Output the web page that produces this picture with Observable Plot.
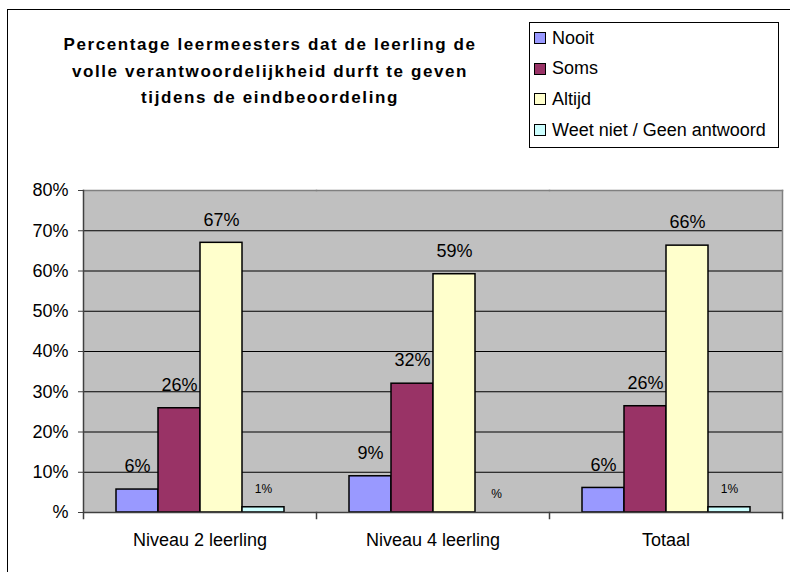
<!DOCTYPE html>
<html>
<head>
<meta charset="utf-8">
<script src="https://cdn.jsdelivr.net/npm/d3@7"></script>
<script src="https://cdn.jsdelivr.net/npm/@observablehq/plot@0.6"></script>
<style>
  html, body { margin: 0; padding: 0; background: #fff; overflow: hidden; }
  #wrap { position: relative; width: 795px; height: 572px; font-family: "Liberation Sans", Arial, sans-serif; color: #000; }
  #border { position: absolute; left: 7px; top: 9px; width: 783px; height: 600px; border-top: 1px solid #000; border-left: 1px solid #000; box-sizing: border-box; pointer-events: none; }
  #title { position: absolute; left: 20px; top: 32px; width: 500px; text-align: center; font-weight: bold; font-size: 17px; letter-spacing: 1.6px; line-height: 26.5px; }
  #legend { position: absolute; left: 529px; top: 22px; width: 250px; height: 126px; border: 1px solid #000; box-sizing: border-box; background: #fff; }
  .item { position: relative; height: 30.6px; display: flex; align-items: center; font-size: 18px; white-space: nowrap; }
  .sw { width: 10px; height: 10px; border: 1px solid #000; margin-left: 4px; margin-right: 6px; flex: none; }
</style>
</head>
<body>
<div id="wrap">
  <div id="chart"></div>
  <div id="border"></div>
  <div id="title"></div>
  <div id="legend"></div>
</div>
<script>
// ---- data ----
const groups = ["Niveau 2 leerling", "Niveau 4 leerling", "Totaal"];
const series = ["Nooit", "Soms", "Altijd", "Weet niet / Geen antwoord"];
const nooit = [0.057, 0.090, 0.061];
const soms = [0.259, 0.320, 0.264];
const altijd = [0.670, 0.592, 0.663];
const weetNiet = [0.013, 0.0, 0.013];
const colors = ["#9999FF", "#993366", "#FFFFCC", "#CCFFFF"];
const yTicks = [0, 0.1, 0.2, 0.3, 0.4, 0.5, 0.6, 0.7, 0.8];
const titleLines = [
  "Percentage leermeesters dat de leerling de",
  "volle verantwoordelijkheid durft te geven",
  "tijdens de eindbeoordeling"
];

const valuesBySeries = [nooit, soms, altijd, weetNiet];
const rows = [];
groups.forEach((g, gi) => series.forEach((s, si) => rows.push({group: g, series: s, value: valuesBySeries[si][gi]})));

const fmt = v => { const r = Math.round(v * 100); return r === 0 ? "%" : r + "%"; };

// ---- layout ----
const W = 795, H = 572, mL = 83, mR = 13, mT = 190, mB = 60;
const innerH = H - mT - mB;
const smallSeries = series[3];

const chart = Plot.plot({
  width: W, height: H,
  marginLeft: mL, marginRight: mR, marginTop: mT, marginBottom: mB,
  style: {fontFamily: "'Liberation Sans', Arial, sans-serif", background: "transparent", color: "#000"},
  fx: {domain: groups, padding: 0, label: null},
  x: {domain: series, paddingInner: 0, paddingOuter: 0.725, axis: null},
  y: {domain: [0, 0.8], axis: null, label: null},
  color: {domain: series, range: colors},
  marks: [
    Plot.frame({fill: "#c0c0c0", stroke: "none", insetLeft: -0.5, insetRight: -0.5}),
    Plot.gridY(yTicks.slice(1, -1), {stroke: "#000", strokeOpacity: 1, strokeWidth: 1}),
    Plot.frame({anchor: "top", stroke: "#808080", strokeWidth: 1.5}),
    Plot.frame({anchor: "right", facetAnchor: "right", stroke: "#808080", strokeWidth: 1.5}),
    Plot.barY(rows.filter(d => d.value > 0), {fx: "group", x: "series", y: "value", fill: "series", stroke: "#000", strokeWidth: 1.5}),
    Plot.text(rows.filter(d => d.series !== smallSeries), {fx: "group", x: "series", y: "value", text: d => fmt(d.value), dy: -23, fontSize: 18, fill: "#000"}),
    Plot.text(rows.filter(d => d.series === smallSeries), {fx: "group", x: "series", y: "value", text: d => fmt(d.value), dy: -18, fontSize: 12, fill: "#000"}),
    Plot.ruleY([0], {stroke: "#404040", strokeWidth: 1.5}),
    Plot.frame({anchor: "left", facetAnchor: "left", stroke: "#404040", strokeWidth: 1.5, insetBottom: -6}),
    Plot.frame({anchor: "right", stroke: "#404040", strokeWidth: 1.5, insetTop: innerH, insetBottom: -6}),
    Plot.axisY(yTicks, {tickSize: 5, tickPadding: 10, fontSize: 18, tickFormat: fmt, stroke: "#404040", fill: "#000", label: null}),
    Plot.axisFx({anchor: "bottom", tickSize: 0, tickPadding: 21, fontSize: 18, label: null, fill: "#000"})
  ]
});
document.getElementById("chart").appendChild(chart);

// title
const t = document.getElementById("title");
titleLines.forEach(l => { const d = document.createElement("div"); d.textContent = l; t.appendChild(d); });

// legend
const lg = document.getElementById("legend");
series.forEach((s, i) => {
  const it = document.createElement("div"); it.className = "item";
  const sw = document.createElement("span"); sw.className = "sw"; sw.style.background = colors[i];
  const tx = document.createElement("span"); tx.textContent = s;
  it.appendChild(sw); it.appendChild(tx); lg.appendChild(it);
});
</script>
</body>
</html>
